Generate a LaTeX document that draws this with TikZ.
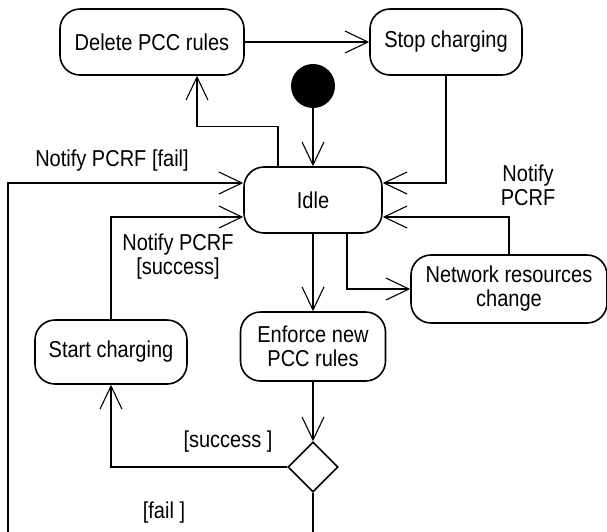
\documentclass[tikz,border=0pt]{standalone}
\usepackage{fontspec}
\setmainfont{Liberation Sans}[FakeStretch=0.87]
\usetikzlibrary{arrows.meta,shapes.geometric}
\begin{document}
\begin{tikzpicture}[x=1pt,y=-1pt,
  every node/.style={font=\fontsize{23}{24}\selectfont},
  state/.style={draw,line width=1.6pt,rounded corners=20pt,align=center,inner sep=0pt},
  flow/.style={line width=1.1pt,-{Straight Barb[length=23pt,width=22pt]}},
  lbl/.style={align=center,inner sep=0pt}]
\useasboundingbox (0,0) rectangle (607,531);
\clip (0,0) rectangle (607,531);

% states
\node[state,minimum width=184pt,minimum height=66pt] (del)  at (152,42)  {Delete PCC rules};
\node[state,minimum width=152pt,minimum height=66pt] (stop) at (446,42)  {Stop charging};
\node[circle,fill=black,inner sep=0pt,minimum size=44pt] (init) at (313,86) {};
\node[state,minimum width=138pt,minimum height=66pt] (idle) at (313,200) {Idle};
\node[state,minimum width=196pt,minimum height=68pt] (net)  at (509,289) {Network resources\\change};
\node[state,minimum width=145pt,minimum height=69pt] (enf)  at (313,346.5) {Enforce new\\PCC rules};
\node[state,minimum width=152pt,minimum height=64pt] (sc)   at (111,352) {Start charging};
\node[diamond,draw,line width=1.6pt,inner sep=0pt,minimum width=50pt,minimum height=50pt] (dia) at (313,467) {};

% transitions
\draw[flow] (del.east) -- (stop.west);
\draw[flow] (init.south) -- (idle.north);
\draw[flow] ([xshift=-35pt]idle.north) -- ++(0,-40) -| ([xshift=45pt]del.south);
\draw[flow] (stop.south) |- ([yshift=17pt]idle.east);
\draw[flow] (net.north) |- ([yshift=-17pt]idle.east);
\draw[flow] (idle.south) -- (enf.north);
\draw[flow] ([xshift=34pt]idle.south) |- (net.west);
\draw[flow] (enf.south) -- (dia.north);
\draw[flow] (dia.west) -| (sc.south);
\draw[flow] (sc.north) |- ([yshift=-17pt]idle.west);
\coordinate (lowleft) at (8,560);
\draw[flow] (dia.south) |- (lowleft) |- ([yshift=17pt]idle.west);

% guards and signals
\node[lbl] (lfail)  at (112,161) {Notify PCRF [fail]};
\node[lbl] (lsucc)  at (178,257) {Notify PCRF\\{[success]}};
\node[lbl] (lnote)  at (528,185) {Notify\\PCRF};
\node[lbl] (ldsucc) at (228,442) {[success ]};
\node[lbl] (ldfail) at (164,513) {[fail ]};
\end{tikzpicture}
\end{document}
